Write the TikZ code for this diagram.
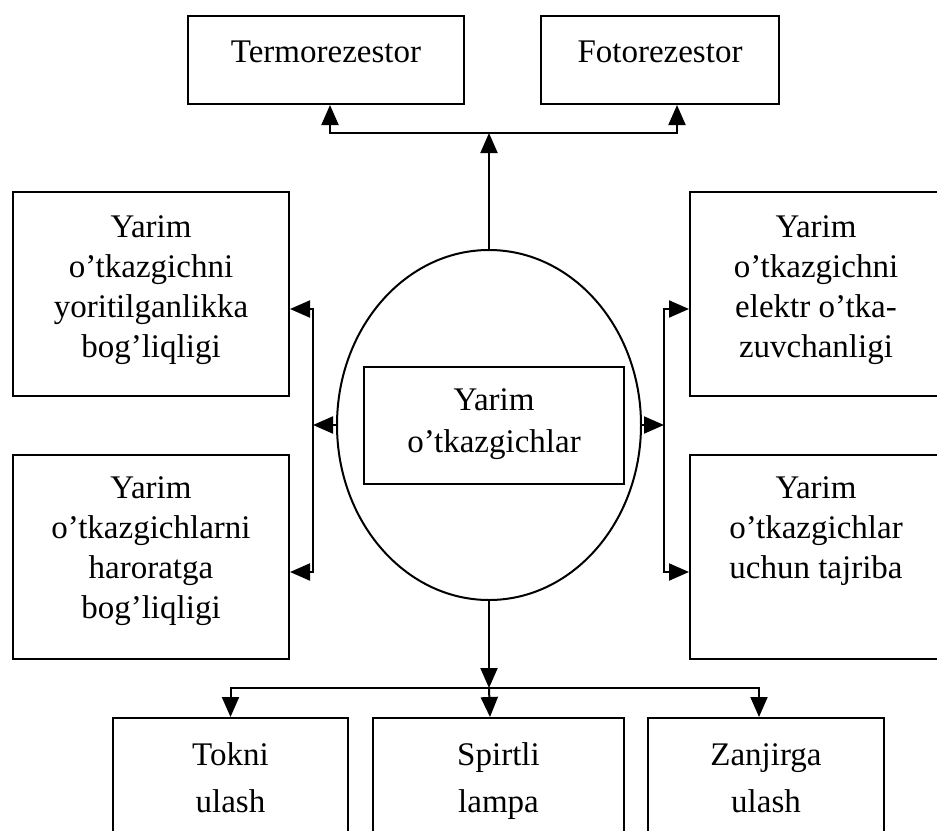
\documentclass[tikz,border=0pt]{standalone}
\usepackage{fontspec}
\setmainfont{Liberation Serif}
\usetikzlibrary{arrows.meta,shapes.geometric}
\newcommand\mlines[1]{\begin{tabular}[t]{@{}c@{}}#1\end{tabular}}
\tikzset{
  box/.style={draw, line width=2pt, rectangle, inner sep=0pt},
  lbl/.style={inner sep=0pt, anchor=base, font=\fontsize{33}{40}\selectfont},
  arr/.style={line width=2pt, -{Triangle[length=20pt,width=17pt]}},
}
\begin{document}
\begin{tikzpicture}[x=1pt,y=-1pt]
\useasboundingbox (0,0) rectangle (937,830);
\clip (0,0) rectangle (937,830);
% boxes
\node[box, minimum width=276pt, minimum height=88pt, anchor=north west] (T1) at (187,15) {};
\node[box, minimum width=238pt, minimum height=88pt, anchor=north west] (T2) at (540,15) {};
\node[box, minimum width=276pt, minimum height=204pt, anchor=north west] (L1) at (12,191) {};
\node[box, minimum width=276pt, minimum height=204pt, anchor=north west] (L2) at (12,454) {};
\node[box, minimum width=252pt, minimum height=204pt, anchor=north west] (R1) at (689,191) {};
\node[box, minimum width=252pt, minimum height=204pt, anchor=north west] (R2) at (689,454) {};
\node[ellipse, draw, line width=2pt, minimum width=304pt, minimum height=350pt, inner sep=0pt] (E) at (489,425) {};
\node[box, minimum width=260pt, minimum height=117pt, anchor=north west] (C) at (363,366) {};
\node[box, minimum width=235pt, minimum height=140pt, anchor=north west] (B1) at (112,717) {};
\node[box, minimum width=251pt, minimum height=140pt, anchor=north west] (B2) at (372,717) {};
\node[box, minimum width=236pt, minimum height=140pt, anchor=north west] (B3) at (647,717) {};
% texts
\node[lbl] (T1t) at ([yshift=-47pt]T1.north) {Termorezestor};
\node[lbl] (T2t) at ([yshift=-47pt]T2.north) {Fotorezestor};
\node[lbl] (L1t) at ([yshift=-46pt]L1.north) {\mlines{Yarim\\o’tkazgichni\\yoritilganlikka\\bog’liqligi}};
\node[lbl] (L2t) at ([yshift=-44pt]L2.north) {\mlines{Yarim\\o’tkazgichlarni\\haroratga\\bog’liqligi}};
\node[lbl] (R1t) at ([yshift=-46pt]R1.north) {\mlines{Yarim\\o’tkazgichni\\elektr o’tka-\\zuvchanligi}};
\node[lbl] (R2t) at ([yshift=-44pt]R2.north) {\mlines{Yarim\\o’tkazgichlar\\uchun tajriba}};
\node[lbl, font=\fontsize{33}{42}\selectfont] (Ct) at ([yshift=-44pt]C.north) {\mlines{Yarim\\o’tkazgichlar}};
\node[lbl, font=\fontsize{33}{47}\selectfont] (B1t) at ([yshift=-48pt]B1.north) {\mlines{Tokni\\ulash}};
\node[lbl, font=\fontsize{33}{47}\selectfont] (B2t) at ([yshift=-48pt]B2.north) {\mlines{Spirtli\\lampa}};
\node[lbl, font=\fontsize{33}{47}\selectfont] (B3t) at ([yshift=-48pt]B3.north) {\mlines{Zanjirga\\ulash}};
% connectors
\coordinate (jt) at (489,133);
\draw[arr] (E.north) -- (jt);
\draw[arr] (jt) -| ([xshift=4pt]T1.south);
\draw[arr] (jt) -| ([xshift=17pt]T2.south);
\coordinate (lb) at (313,425);
\draw[arr] (E.west) -- (lb);
\draw[arr] (lb) |- ([yshift=-15pt]L1.east);
\draw[arr] (lb) |- ([yshift=-15pt]L2.east);
\coordinate (rb) at (664,425);
\draw[arr] (E.east) -- (rb);
\draw[arr] (rb) |- ([yshift=-15pt]R1.west);
\draw[arr] (rb) |- ([yshift=-15pt]R2.west);
\coordinate (jb) at (489,688);
\draw[arr] (E.south) -- (jb);
\draw[arr] (jb) -| (B1.north);
\draw[arr] (jb) -- ([xshift=-8.5pt]B2.north);
\draw[arr] (jb) -| ([xshift=-7pt]B3.north);
\end{tikzpicture}
\end{document}
